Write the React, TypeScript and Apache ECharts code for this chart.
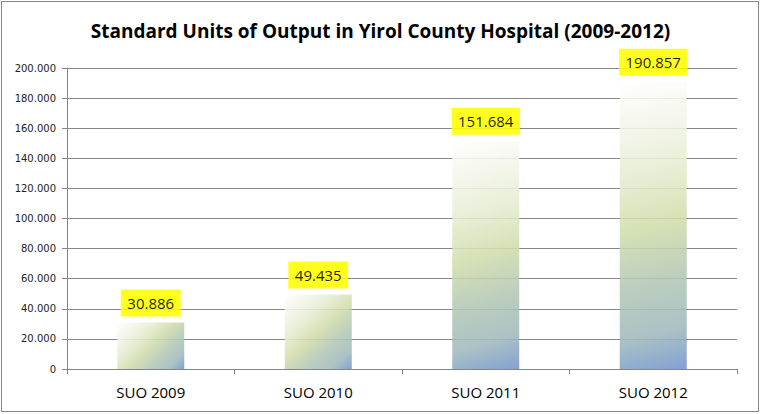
import React, { useEffect, useRef } from "react";
import * as echarts from "echarts";

const categories = ["SUO 2009", "SUO 2010", "SUO 2011", "SUO 2012"];
const suoValues = [30886, 49435, 151684, 190857];
const yMin = 0;
const yMax = 200000;
const yInterval = 20000;
const titleText = "Standard Units of Output in Yirol County Hospital (2009-2012)";

const fmt = (v: number) => {
  if (v === 0) return "0";
  const s = Math.round(v).toString();
  return s.replace(/\B(?=(\d{3})+(?!\d))/g, ".");
};

const FONT = "'Open Sans', sans-serif";
const GRID = { left: 67, right: 24, top: 68, bottom: 45 };
const CHART_W = 761;
const CHART_H = 414;
const BAR_FRACTION = 0.4;

const stops = [
  { offset: 0, color: "#ffffff" },
  { offset: 0.12, color: "#f6f8ef" },
  { offset: 0.32, color: "#e6ecd2" },
  { offset: 0.5, color: "#d1ddab" },
  { offset: 0.68, color: "#b4c8b5" },
  { offset: 0.86, color: "#a0b9bd" },
  { offset: 1, color: "#7094cc" },
];

// gradient direction per bar so it looks like the Office fill on both short and tall bars
const gradientFor = (v: number) => {
  const plotH = CHART_H - GRID.top - GRID.bottom;
  const plotW = CHART_W - GRID.left - GRID.right;
  const w = (plotW / categories.length) * BAR_FRACTION;
  const h = Math.max(1, ((v - yMin) / (yMax - yMin)) * plotH);
  const r = w / h;
  const s = Math.min(1, r);
  const dx = s * r;
  const lam = (dx + 1) / (dx * dx + 1);
  return new echarts.graphic.LinearGradient(0, 0, lam * dx, lam, stops);
};

export default function App() {
  const ref = useRef<HTMLDivElement>(null);
  useEffect(() => {
    document.body.style.margin = "0";
    if (!ref.current) return;
    const chart = echarts.init(ref.current, undefined, { renderer: "svg" });
    chart.setOption({
      animation: false,
      backgroundColor: "#ffffff",
      title: {
        text: titleText,
        left: "center",
        top: 16,
        textStyle: { fontFamily: FONT, fontSize: 19, fontWeight: "bold", color: "#000" },
      },
      graphic: [
        {
          type: "rect",
          shape: { x: 1.5, y: 1.5, width: 757, height: 410 },
          style: { fill: "none", stroke: "#868686", lineWidth: 1 },
          silent: true,
        },
      ],
      grid: GRID,
      xAxis: {
        type: "category",
        data: categories,
        axisLine: { lineStyle: { color: "#868686" } },
        axisTick: { show: true, length: 5, lineStyle: { color: "#868686" } },
        axisLabel: { fontFamily: FONT, fontSize: 15, color: "#000", margin: 15 },
      },
      yAxis: {
        type: "value",
        min: yMin,
        max: yMax,
        interval: yInterval,
        axisLine: { show: true, lineStyle: { color: "#868686" } },
        axisTick: { show: true, length: 5, lineStyle: { color: "#868686" } },
        splitLine: { lineStyle: { color: "#868686", width: 1 } },
        axisLabel: {
          fontFamily: "'DejaVu Sans', sans-serif",
          fontSize: 10,
          color: "#222",
          margin: 11,
          formatter: (v: number) => fmt(v),
        },
      },
      series: [
        {
          type: "bar",
          data: suoValues.map((v) => ({
            value: v,
            itemStyle: { color: gradientFor(v) },
          })),
          barWidth: BAR_FRACTION * 100 + "%",
          itemStyle: { opacity: 0.88 },
          label: {
            show: true,
            position: "top",
            distance: 6,
            formatter: (p: any) => fmt(p.value),
            backgroundColor: "#ffff00",
            padding: [4, 6.5, 4, 6.5],
            lineHeight: 19,
            fontFamily: FONT,
            fontSize: 15,
            color: "#000",
          },
        },
      ],
    });
    return () => chart.dispose();
  }, []);
  return <div ref={ref} style={{ width: CHART_W, height: CHART_H }} />;
}
